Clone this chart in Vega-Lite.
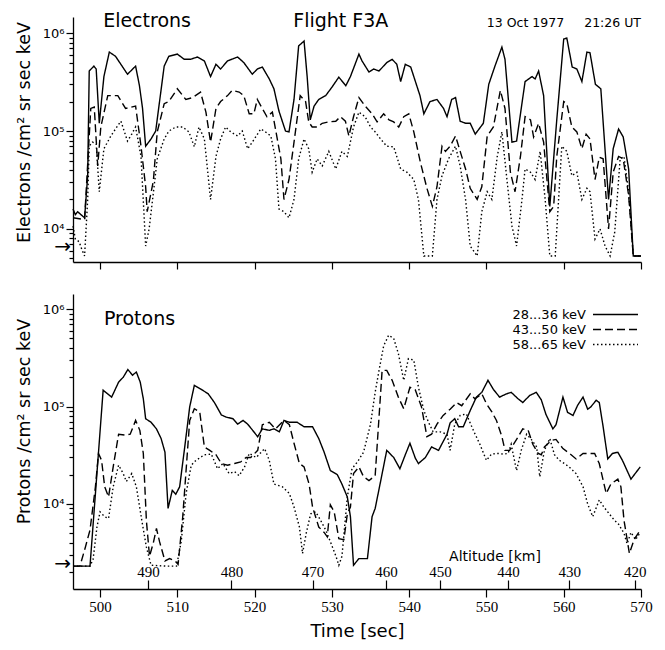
{
"$schema":"https://vega.github.io/schema/vega-lite/v6.json",
"padding":{"left":15,"top":11,"right":2,"bottom":2},
"config":{"font":"DejaVu Sans","view":{"stroke":null},"axis":{"grid":false,"domainColor":"#000","tickColor":"#000","labelColor":"#000","titleColor":"#000","titleFontWeight":"normal","domainWidth":1.3,"tickWidth":1.2},"text":{"color":"#000"}},
"resolve":{"legend":{"strokeDash":"independent"}},
"spacing":24,
"datasets":{
"el":[
{"b":"28...36 keV","t":496.5,"v":16000},{"b":"28...36 keV","t":496.8,"v":14000},{"b":"28...36 keV","t":497.1,"v":15000},{"b":"28...36 keV","t":498.0,"v":13000},{"b":"28...36 keV","t":498.4,"v":35000},{"b":"28...36 keV","t":498.6,"v":410000},{"b":"28...36 keV","t":499.2,"v":460000},{"b":"28...36 keV","t":499.5,"v":430000},{"b":"28...36 keV","t":499.9,"v":120000},{"b":"28...36 keV","t":500.5,"v":360000},{"b":"28...36 keV","t":501.2,"v":640000},{"b":"28...36 keV","t":502.0,"v":580000},{"b":"28...36 keV","t":503.55,"v":380000},{"b":"28...36 keV","t":504.6,"v":460000},{"b":"28...36 keV","t":505.1,"v":290000},{"b":"28...36 keV","t":505.5,"v":170000},{"b":"28...36 keV","t":505.9,"v":70000},{"b":"28...36 keV","t":506.6,"v":83000},{"b":"28...36 keV","t":507.2,"v":100000},{"b":"28...36 keV","t":508.3,"v":460000},{"b":"28...36 keV","t":508.9,"v":580000},{"b":"28...36 keV","t":510.0,"v":610000},{"b":"28...36 keV","t":510.9,"v":540000},{"b":"28...36 keV","t":511.7,"v":540000},{"b":"28...36 keV","t":512.6,"v":570000},{"b":"28...36 keV","t":513.5,"v":520000},{"b":"28...36 keV","t":514.3,"v":360000},{"b":"28...36 keV","t":515.0,"v":480000},{"b":"28...36 keV","t":515.6,"v":430000},{"b":"28...36 keV","t":516.5,"v":520000},{"b":"28...36 keV","t":517.8,"v":570000},{"b":"28...36 keV","t":518.6,"v":500000},{"b":"28...36 keV","t":519.7,"v":380000},{"b":"28...36 keV","t":520.35,"v":430000},{"b":"28...36 keV","t":521.0,"v":450000},{"b":"28...36 keV","t":521.9,"v":340000},{"b":"28...36 keV","t":522.5,"v":270000},{"b":"28...36 keV","t":523.15,"v":160000},{"b":"28...36 keV","t":524.0,"v":100000},{"b":"28...36 keV","t":524.45,"v":98000},{"b":"28...36 keV","t":525.1,"v":210000},{"b":"28...36 keV","t":525.7,"v":740000},{"b":"28...36 keV","t":526.4,"v":830000},{"b":"28...36 keV","t":526.8,"v":360000},{"b":"28...36 keV","t":527.2,"v":130000},{"b":"28...36 keV","t":527.7,"v":180000},{"b":"28...36 keV","t":528.3,"v":210000},{"b":"28...36 keV","t":529.2,"v":230000},{"b":"28...36 keV","t":530.0,"v":280000},{"b":"28...36 keV","t":530.9,"v":355000},{"b":"28...36 keV","t":531.8,"v":290000},{"b":"28...36 keV","t":532.4,"v":360000},{"b":"28...36 keV","t":533.5,"v":610000},{"b":"28...36 keV","t":533.9,"v":520000},{"b":"28...36 keV","t":534.8,"v":400000},{"b":"28...36 keV","t":535.4,"v":430000},{"b":"28...36 keV","t":536.1,"v":410000},{"b":"28...36 keV","t":537.1,"v":500000},{"b":"28...36 keV","t":537.8,"v":540000},{"b":"28...36 keV","t":538.4,"v":480000},{"b":"28...36 keV","t":538.9,"v":320000},{"b":"28...36 keV","t":539.5,"v":480000},{"b":"28...36 keV","t":540.2,"v":450000},{"b":"28...36 keV","t":540.6,"v":360000},{"b":"28...36 keV","t":541.4,"v":230000},{"b":"28...36 keV","t":541.9,"v":150000},{"b":"28...36 keV","t":542.7,"v":200000},{"b":"28...36 keV","t":543.6,"v":210000},{"b":"28...36 keV","t":544.45,"v":170000},{"b":"28...36 keV","t":544.9,"v":140000},{"b":"28...36 keV","t":545.5,"v":210000},{"b":"28...36 keV","t":546.0,"v":220000},{"b":"28...36 keV","t":546.6,"v":126000},{"b":"28...36 keV","t":547.3,"v":120000},{"b":"28...36 keV","t":547.9,"v":120000},{"b":"28...36 keV","t":548.55,"v":93000},{"b":"28...36 keV","t":549.6,"v":120000},{"b":"28...36 keV","t":550.3,"v":300000},{"b":"28...36 keV","t":551.1,"v":460000},{"b":"28...36 keV","t":552.0,"v":720000},{"b":"28...36 keV","t":552.4,"v":540000},{"b":"28...36 keV","t":553.3,"v":77000},{"b":"28...36 keV","t":553.9,"v":79000},{"b":"28...36 keV","t":555.0,"v":320000},{"b":"28...36 keV","t":555.9,"v":360000},{"b":"28...36 keV","t":556.3,"v":340000},{"b":"28...36 keV","t":556.75,"v":410000},{"b":"28...36 keV","t":557.4,"v":230000},{"b":"28...36 keV","t":558.2,"v":17000},{"b":"28...36 keV","t":559.1,"v":130000},{"b":"28...36 keV","t":560.0,"v":870000},{"b":"28...36 keV","t":560.4,"v":890000},{"b":"28...36 keV","t":561.1,"v":450000},{"b":"28...36 keV","t":561.7,"v":430000},{"b":"28...36 keV","t":562.35,"v":320000},{"b":"28...36 keV","t":563.0,"v":640000},{"b":"28...36 keV","t":563.4,"v":630000},{"b":"28...36 keV","t":564.1,"v":300000},{"b":"28...36 keV","t":564.8,"v":270000},{"b":"28...36 keV","t":565.8,"v":20000},{"b":"28...36 keV","t":566.4,"v":66000},{"b":"28...36 keV","t":567.1,"v":105000},{"b":"28...36 keV","t":567.7,"v":87000},{"b":"28...36 keV","t":568.4,"v":41000},{"b":"28...36 keV","t":569.0,"v":5300},{"b":"28...36 keV","t":570.0,"v":5300},
{"b":"43...50 keV","t":496.5,"v":13000},{"b":"43...50 keV","t":498.0,"v":12500},{"b":"43...50 keV","t":498.8,"v":170000},{"b":"43...50 keV","t":499.25,"v":176000},{"b":"43...50 keV","t":499.7,"v":44000},{"b":"43...50 keV","t":500.1,"v":110000},{"b":"43...50 keV","t":501.0,"v":230000},{"b":"43...50 keV","t":502.3,"v":230000},{"b":"43...50 keV","t":503.3,"v":170000},{"b":"43...50 keV","t":504.6,"v":180000},{"b":"43...50 keV","t":505.3,"v":70000},{"b":"43...50 keV","t":505.9,"v":27000},{"b":"43...50 keV","t":506.1,"v":15000},{"b":"43...50 keV","t":506.9,"v":31000},{"b":"43...50 keV","t":507.4,"v":98000},{"b":"43...50 keV","t":508.3,"v":190000},{"b":"43...50 keV","t":508.9,"v":200000},{"b":"43...50 keV","t":510.0,"v":270000},{"b":"43...50 keV","t":511.1,"v":210000},{"b":"43...50 keV","t":512.0,"v":220000},{"b":"43...50 keV","t":513.0,"v":250000},{"b":"43...50 keV","t":513.7,"v":156000},{"b":"43...50 keV","t":514.3,"v":77000},{"b":"43...50 keV","t":515.0,"v":170000},{"b":"43...50 keV","t":515.6,"v":200000},{"b":"43...50 keV","t":516.5,"v":230000},{"b":"43...50 keV","t":517.1,"v":260000},{"b":"43...50 keV","t":518.0,"v":250000},{"b":"43...50 keV","t":518.6,"v":230000},{"b":"43...50 keV","t":519.3,"v":150000},{"b":"43...50 keV","t":519.9,"v":150000},{"b":"43...50 keV","t":520.35,"v":210000},{"b":"43...50 keV","t":521.0,"v":170000},{"b":"43...50 keV","t":521.6,"v":140000},{"b":"43...50 keV","t":522.3,"v":156000},{"b":"43...50 keV","t":522.7,"v":105000},{"b":"43...50 keV","t":523.4,"v":52000},{"b":"43...50 keV","t":523.8,"v":20000},{"b":"43...50 keV","t":524.45,"v":32000},{"b":"43...50 keV","t":525.1,"v":77000},{"b":"43...50 keV","t":525.9,"v":230000},{"b":"43...50 keV","t":526.6,"v":200000},{"b":"43...50 keV","t":527.0,"v":124000},{"b":"43...50 keV","t":527.45,"v":110000},{"b":"43...50 keV","t":528.1,"v":110000},{"b":"43...50 keV","t":528.75,"v":120000},{"b":"43...50 keV","t":529.6,"v":124000},{"b":"43...50 keV","t":530.5,"v":126000},{"b":"43...50 keV","t":531.1,"v":140000},{"b":"43...50 keV","t":531.75,"v":126000},{"b":"43...50 keV","t":532.2,"v":89000},{"b":"43...50 keV","t":532.8,"v":140000},{"b":"43...50 keV","t":533.5,"v":220000},{"b":"43...50 keV","t":534.3,"v":180000},{"b":"43...50 keV","t":535.2,"v":150000},{"b":"43...50 keV","t":535.85,"v":124000},{"b":"43...50 keV","t":536.7,"v":150000},{"b":"43...50 keV","t":537.4,"v":130000},{"b":"43...50 keV","t":538.0,"v":124000},{"b":"43...50 keV","t":538.65,"v":110000},{"b":"43...50 keV","t":539.3,"v":140000},{"b":"43...50 keV","t":539.95,"v":150000},{"b":"43...50 keV","t":540.6,"v":98000},{"b":"43...50 keV","t":541.45,"v":48000},{"b":"43...50 keV","t":542.3,"v":26000},{"b":"43...50 keV","t":543.0,"v":17000},{"b":"43...50 keV","t":543.6,"v":27000},{"b":"43...50 keV","t":544.25,"v":70000},{"b":"43...50 keV","t":544.7,"v":62000},{"b":"43...50 keV","t":545.3,"v":70000},{"b":"43...50 keV","t":546.0,"v":89000},{"b":"43...50 keV","t":546.6,"v":62000},{"b":"43...50 keV","t":547.3,"v":41000},{"b":"43...50 keV","t":547.9,"v":26000},{"b":"43...50 keV","t":548.8,"v":20000},{"b":"43...50 keV","t":549.4,"v":27000},{"b":"43...50 keV","t":550.1,"v":89000},{"b":"43...50 keV","t":550.9,"v":110000},{"b":"43...50 keV","t":551.8,"v":260000},{"b":"43...50 keV","t":552.4,"v":170000},{"b":"43...50 keV","t":553.1,"v":38000},{"b":"43...50 keV","t":553.7,"v":24000},{"b":"43...50 keV","t":554.4,"v":55000},{"b":"43...50 keV","t":555.0,"v":140000},{"b":"43...50 keV","t":555.7,"v":130000},{"b":"43...50 keV","t":556.1,"v":87000},{"b":"43...50 keV","t":556.75,"v":120000},{"b":"43...50 keV","t":557.4,"v":77000},{"b":"43...50 keV","t":558.2,"v":15000},{"b":"43...50 keV","t":558.7,"v":17000},{"b":"43...50 keV","t":559.1,"v":55000},{"b":"43...50 keV","t":560.0,"v":200000},{"b":"43...50 keV","t":560.4,"v":190000},{"b":"43...50 keV","t":561.05,"v":110000},{"b":"43...50 keV","t":561.7,"v":98000},{"b":"43...50 keV","t":562.35,"v":66000},{"b":"43...50 keV","t":562.9,"v":93000},{"b":"43...50 keV","t":563.4,"v":83000},{"b":"43...50 keV","t":564.05,"v":32000},{"b":"43...50 keV","t":564.6,"v":54000},{"b":"43...50 keV","t":565.1,"v":52000},{"b":"43...50 keV","t":565.8,"v":10000},{"b":"43...50 keV","t":566.4,"v":38000},{"b":"43...50 keV","t":567.1,"v":55000},{"b":"43...50 keV","t":567.7,"v":52000},{"b":"43...50 keV","t":568.4,"v":22000},{"b":"43...50 keV","t":569.0,"v":5300},{"b":"43...50 keV","t":570.0,"v":5300},
{"b":"58...65 keV","t":496.5,"v":10700},{"b":"58...65 keV","t":496.8,"v":7900},{"b":"58...65 keV","t":497.3,"v":7400},{"b":"58...65 keV","t":497.6,"v":6300},{"b":"58...65 keV","t":498.0,"v":5300},{"b":"58...65 keV","t":498.4,"v":20000},{"b":"58...65 keV","t":498.6,"v":70000},{"b":"58...65 keV","t":499.0,"v":77000},{"b":"58...65 keV","t":499.5,"v":74000},{"b":"58...65 keV","t":499.9,"v":24000},{"b":"58...65 keV","t":500.5,"v":66000},{"b":"58...65 keV","t":501.4,"v":89000},{"b":"58...65 keV","t":502.0,"v":105000},{"b":"58...65 keV","t":502.7,"v":126000},{"b":"58...65 keV","t":503.55,"v":79000},{"b":"58...65 keV","t":504.1,"v":93000},{"b":"58...65 keV","t":504.6,"v":110000},{"b":"58...65 keV","t":505.3,"v":55000},{"b":"58...65 keV","t":505.9,"v":6700},{"b":"58...65 keV","t":506.35,"v":10000},{"b":"58...65 keV","t":506.8,"v":20000},{"b":"58...65 keV","t":507.4,"v":52000},{"b":"58...65 keV","t":508.3,"v":83000},{"b":"58...65 keV","t":508.9,"v":100000},{"b":"58...65 keV","t":509.8,"v":110000},{"b":"58...65 keV","t":510.7,"v":110000},{"b":"58...65 keV","t":511.5,"v":98000},{"b":"58...65 keV","t":512.2,"v":69000},{"b":"58...65 keV","t":512.8,"v":110000},{"b":"58...65 keV","t":513.5,"v":83000},{"b":"58...65 keV","t":514.3,"v":20000},{"b":"58...65 keV","t":515.0,"v":55000},{"b":"58...65 keV","t":515.6,"v":83000},{"b":"58...65 keV","t":516.25,"v":110000},{"b":"58...65 keV","t":516.9,"v":98000},{"b":"58...65 keV","t":517.8,"v":89000},{"b":"58...65 keV","t":518.4,"v":100000},{"b":"58...65 keV","t":519.1,"v":66000},{"b":"58...65 keV","t":519.7,"v":77000},{"b":"58...65 keV","t":520.8,"v":105000},{"b":"58...65 keV","t":521.4,"v":98000},{"b":"58...65 keV","t":522.1,"v":89000},{"b":"58...65 keV","t":522.7,"v":52000},{"b":"58...65 keV","t":523.15,"v":16000},{"b":"58...65 keV","t":523.8,"v":15000},{"b":"58...65 keV","t":524.45,"v":13000},{"b":"58...65 keV","t":525.1,"v":20000},{"b":"58...65 keV","t":525.7,"v":52000},{"b":"58...65 keV","t":526.4,"v":83000},{"b":"58...65 keV","t":527.0,"v":66000},{"b":"58...65 keV","t":527.45,"v":38000},{"b":"58...65 keV","t":528.1,"v":52000},{"b":"58...65 keV","t":528.75,"v":44000},{"b":"58...65 keV","t":529.6,"v":62000},{"b":"58...65 keV","t":530.5,"v":41000},{"b":"58...65 keV","t":531.3,"v":62000},{"b":"58...65 keV","t":532.0,"v":55000},{"b":"58...65 keV","t":532.8,"v":110000},{"b":"58...65 keV","t":533.5,"v":156000},{"b":"58...65 keV","t":534.3,"v":140000},{"b":"58...65 keV","t":535.0,"v":110000},{"b":"58...65 keV","t":535.6,"v":98000},{"b":"58...65 keV","t":536.3,"v":83000},{"b":"58...65 keV","t":537.1,"v":70000},{"b":"58...65 keV","t":538.0,"v":69000},{"b":"58...65 keV","t":538.9,"v":41000},{"b":"58...65 keV","t":539.7,"v":38000},{"b":"58...65 keV","t":540.6,"v":32000},{"b":"58...65 keV","t":541.2,"v":20000},{"b":"58...65 keV","t":541.9,"v":5300},{"b":"58...65 keV","t":543.0,"v":5300},{"b":"58...65 keV","t":543.6,"v":20000},{"b":"58...65 keV","t":544.25,"v":35000},{"b":"58...65 keV","t":545.1,"v":52000},{"b":"58...65 keV","t":546.0,"v":70000},{"b":"58...65 keV","t":546.6,"v":44000},{"b":"58...65 keV","t":547.3,"v":20000},{"b":"58...65 keV","t":547.9,"v":6700},{"b":"58...65 keV","t":548.8,"v":5300},{"b":"58...65 keV","t":549.4,"v":15000},{"b":"58...65 keV","t":550.1,"v":24000},{"b":"58...65 keV","t":550.7,"v":20000},{"b":"58...65 keV","t":551.4,"v":55000},{"b":"58...65 keV","t":552.0,"v":98000},{"b":"58...65 keV","t":552.65,"v":32000},{"b":"58...65 keV","t":553.3,"v":10700},{"b":"58...65 keV","t":553.9,"v":6700},{"b":"58...65 keV","t":554.6,"v":20000},{"b":"58...65 keV","t":555.0,"v":41000},{"b":"58...65 keV","t":555.7,"v":38000},{"b":"58...65 keV","t":556.3,"v":32000},{"b":"58...65 keV","t":556.95,"v":62000},{"b":"58...65 keV","t":557.6,"v":20000},{"b":"58...65 keV","t":558.2,"v":5300},{"b":"58...65 keV","t":558.9,"v":5300},{"b":"58...65 keV","t":559.75,"v":70000},{"b":"58...65 keV","t":560.4,"v":62000},{"b":"58...65 keV","t":561.05,"v":35000},{"b":"58...65 keV","t":561.7,"v":38000},{"b":"58...65 keV","t":562.35,"v":20000},{"b":"58...65 keV","t":563.0,"v":26000},{"b":"58...65 keV","t":563.4,"v":24000},{"b":"58...65 keV","t":564.05,"v":7900},{"b":"58...65 keV","t":564.7,"v":10000},{"b":"58...65 keV","t":565.35,"v":6700},{"b":"58...65 keV","t":566.0,"v":5300},{"b":"58...65 keV","t":566.6,"v":9300},{"b":"58...65 keV","t":567.3,"v":52000},{"b":"58...65 keV","t":567.8,"v":55000},{"b":"58...65 keV","t":568.4,"v":24000},{"b":"58...65 keV","t":569.0,"v":5300},{"b":"58...65 keV","t":570.0,"v":5300}
],
"pr":[
{"b":"28...36 keV","t":496.5,"v":2300},{"b":"28...36 keV","t":498.7,"v":2300},{"b":"28...36 keV","t":500.4,"v":147000},{"b":"28...36 keV","t":501.5,"v":125000},{"b":"28...36 keV","t":502.4,"v":178000},{"b":"28...36 keV","t":503.0,"v":200000},{"b":"28...36 keV","t":503.6,"v":240000},{"b":"28...36 keV","t":504.2,"v":210000},{"b":"28...36 keV","t":504.7,"v":226000},{"b":"28...36 keV","t":505.2,"v":178000},{"b":"28...36 keV","t":505.6,"v":120000},{"b":"28...36 keV","t":505.9,"v":75000},{"b":"28...36 keV","t":506.6,"v":69000},{"b":"28...36 keV","t":507.3,"v":59000},{"b":"28...36 keV","t":507.9,"v":47000},{"b":"28...36 keV","t":508.4,"v":34000},{"b":"28...36 keV","t":508.8,"v":9000},{"b":"28...36 keV","t":509.35,"v":13800},{"b":"28...36 keV","t":509.8,"v":12600},{"b":"28...36 keV","t":510.3,"v":15000},{"b":"28...36 keV","t":510.95,"v":38000},{"b":"28...36 keV","t":511.6,"v":99000},{"b":"28...36 keV","t":512.2,"v":165000},{"b":"28...36 keV","t":513.1,"v":150000},{"b":"28...36 keV","t":514.0,"v":135000},{"b":"28...36 keV","t":514.8,"v":110000},{"b":"28...36 keV","t":515.7,"v":82000},{"b":"28...36 keV","t":516.3,"v":78000},{"b":"28...36 keV","t":517.2,"v":75000},{"b":"28...36 keV","t":517.8,"v":66000},{"b":"28...36 keV","t":518.5,"v":72000},{"b":"28...36 keV","t":519.1,"v":66000},{"b":"28...36 keV","t":519.75,"v":57000},{"b":"28...36 keV","t":520.4,"v":49000},{"b":"28...36 keV","t":521.0,"v":59000},{"b":"28...36 keV","t":521.9,"v":57000},{"b":"28...36 keV","t":522.5,"v":59000},{"b":"28...36 keV","t":523.2,"v":55000},{"b":"28...36 keV","t":523.8,"v":72000},{"b":"28...36 keV","t":524.5,"v":69000},{"b":"28...36 keV","t":525.5,"v":69000},{"b":"28...36 keV","t":526.4,"v":62000},{"b":"28...36 keV","t":527.5,"v":62000},{"b":"28...36 keV","t":528.3,"v":47000},{"b":"28...36 keV","t":529.0,"v":34000},{"b":"28...36 keV","t":529.8,"v":22000},{"b":"28...36 keV","t":530.7,"v":20000},{"b":"28...36 keV","t":531.3,"v":16000},{"b":"28...36 keV","t":532.0,"v":11800},{"b":"28...36 keV","t":532.4,"v":7400},{"b":"28...36 keV","t":532.8,"v":2350},{"b":"28...36 keV","t":533.5,"v":2750},{"b":"28...36 keV","t":534.6,"v":2750},{"b":"28...36 keV","t":535.2,"v":7400},{"b":"28...36 keV","t":535.6,"v":9000},{"b":"28...36 keV","t":536.3,"v":17000},{"b":"28...36 keV","t":537.1,"v":35500},{"b":"28...36 keV","t":538.0,"v":30000},{"b":"28...36 keV","t":538.8,"v":23000},{"b":"28...36 keV","t":539.5,"v":32000},{"b":"28...36 keV","t":540.1,"v":42000},{"b":"28...36 keV","t":540.8,"v":29500},{"b":"28...36 keV","t":541.2,"v":26000},{"b":"28...36 keV","t":542.1,"v":30000},{"b":"28...36 keV","t":542.9,"v":38500},{"b":"28...36 keV","t":543.8,"v":35500},{"b":"28...36 keV","t":544.9,"v":52000},{"b":"28...36 keV","t":545.3,"v":68000},{"b":"28...36 keV","t":545.9,"v":75000},{"b":"28...36 keV","t":546.4,"v":62000},{"b":"28...36 keV","t":547.0,"v":62000},{"b":"28...36 keV","t":547.9,"v":91000},{"b":"28...36 keV","t":548.7,"v":125000},{"b":"28...36 keV","t":549.4,"v":140000},{"b":"28...36 keV","t":550.2,"v":186000},{"b":"28...36 keV","t":550.9,"v":150000},{"b":"28...36 keV","t":551.7,"v":125000},{"b":"28...36 keV","t":552.6,"v":135000},{"b":"28...36 keV","t":553.2,"v":140000},{"b":"28...36 keV","t":554.1,"v":120000},{"b":"28...36 keV","t":554.7,"v":110000},{"b":"28...36 keV","t":555.6,"v":130000},{"b":"28...36 keV","t":556.45,"v":140000},{"b":"28...36 keV","t":557.1,"v":117000},{"b":"28...36 keV","t":557.7,"v":83000},{"b":"28...36 keV","t":558.6,"v":59000},{"b":"28...36 keV","t":559.0,"v":65000},{"b":"28...36 keV","t":559.9,"v":125000},{"b":"28...36 keV","t":560.5,"v":87000},{"b":"28...36 keV","t":561.2,"v":81000},{"b":"28...36 keV","t":561.8,"v":103000},{"b":"28...36 keV","t":562.5,"v":125000},{"b":"28...36 keV","t":563.1,"v":94000},{"b":"28...36 keV","t":563.5,"v":99000},{"b":"28...36 keV","t":564.2,"v":116000},{"b":"28...36 keV","t":564.6,"v":110000},{"b":"28...36 keV","t":565.1,"v":62000},{"b":"28...36 keV","t":565.7,"v":29000},{"b":"28...36 keV","t":566.3,"v":33000},{"b":"28...36 keV","t":567.0,"v":34000},{"b":"28...36 keV","t":567.6,"v":28000},{"b":"28...36 keV","t":568.7,"v":18000},{"b":"28...36 keV","t":569.9,"v":24000},
{"b":"43...50 keV","t":496.5,"v":2300},{"b":"43...50 keV","t":497.4,"v":2300},{"b":"43...50 keV","t":498.1,"v":3600},{"b":"43...50 keV","t":498.7,"v":5400},{"b":"43...50 keV","t":499.4,"v":15000},{"b":"43...50 keV","t":499.8,"v":33000},{"b":"43...50 keV","t":500.2,"v":28000},{"b":"43...50 keV","t":500.6,"v":15000},{"b":"43...50 keV","t":501.1,"v":11800},{"b":"43...50 keV","t":501.7,"v":24000},{"b":"43...50 keV","t":502.4,"v":52000},{"b":"43...50 keV","t":503.2,"v":51000},{"b":"43...50 keV","t":503.9,"v":52000},{"b":"43...50 keV","t":504.6,"v":72000},{"b":"43...50 keV","t":505.15,"v":57000},{"b":"43...50 keV","t":505.6,"v":33000},{"b":"43...50 keV","t":506.0,"v":6700},{"b":"43...50 keV","t":506.4,"v":2900},{"b":"43...50 keV","t":506.9,"v":4000},{"b":"43...50 keV","t":507.3,"v":5600},{"b":"43...50 keV","t":507.7,"v":4100},{"b":"43...50 keV","t":508.4,"v":2600},{"b":"43...50 keV","t":509.0,"v":2750},{"b":"43...50 keV","t":509.7,"v":2600},{"b":"43...50 keV","t":510.1,"v":2400},{"b":"43...50 keV","t":510.7,"v":7400},{"b":"43...50 keV","t":511.6,"v":72000},{"b":"43...50 keV","t":512.2,"v":95000},{"b":"43...50 keV","t":512.9,"v":88000},{"b":"43...50 keV","t":513.5,"v":38500},{"b":"43...50 keV","t":514.2,"v":35500},{"b":"43...50 keV","t":515.0,"v":32000},{"b":"43...50 keV","t":515.7,"v":26000},{"b":"43...50 keV","t":516.5,"v":25000},{"b":"43...50 keV","t":517.4,"v":26000},{"b":"43...50 keV","t":518.2,"v":27000},{"b":"43...50 keV","t":518.9,"v":30000},{"b":"43...50 keV","t":519.5,"v":30000},{"b":"43...50 keV","t":520.4,"v":35500},{"b":"43...50 keV","t":521.0,"v":65000},{"b":"43...50 keV","t":521.9,"v":69000},{"b":"43...50 keV","t":522.7,"v":59000},{"b":"43...50 keV","t":523.8,"v":72000},{"b":"43...50 keV","t":524.5,"v":65000},{"b":"43...50 keV","t":525.1,"v":42000},{"b":"43...50 keV","t":525.8,"v":26000},{"b":"43...50 keV","t":526.4,"v":24000},{"b":"43...50 keV","t":527.05,"v":16000},{"b":"43...50 keV","t":527.5,"v":9300},{"b":"43...50 keV","t":528.3,"v":5800},{"b":"43...50 keV","t":529.0,"v":5100},{"b":"43...50 keV","t":529.4,"v":4600},{"b":"43...50 keV","t":529.8,"v":9800},{"b":"43...50 keV","t":530.3,"v":8300},{"b":"43...50 keV","t":530.9,"v":4400},{"b":"43...50 keV","t":531.55,"v":4300},{"b":"43...50 keV","t":532.0,"v":7900},{"b":"43...50 keV","t":532.4,"v":9300},{"b":"43...50 keV","t":532.8,"v":20500},{"b":"43...50 keV","t":533.5,"v":24000},{"b":"43...50 keV","t":534.1,"v":19000},{"b":"43...50 keV","t":534.8,"v":17400},{"b":"43...50 keV","t":535.6,"v":19500},{"b":"43...50 keV","t":536.5,"v":235000},{"b":"43...50 keV","t":537.1,"v":235000},{"b":"43...50 keV","t":537.8,"v":186000},{"b":"43...50 keV","t":538.6,"v":125000},{"b":"43...50 keV","t":539.3,"v":95000},{"b":"43...50 keV","t":540.1,"v":158000},{"b":"43...50 keV","t":540.8,"v":148000},{"b":"43...50 keV","t":541.6,"v":99000},{"b":"43...50 keV","t":542.3,"v":49000},{"b":"43...50 keV","t":542.9,"v":52000},{"b":"43...50 keV","t":543.6,"v":66000},{"b":"43...50 keV","t":544.4,"v":81000},{"b":"43...50 keV","t":545.3,"v":94000},{"b":"43...50 keV","t":546.15,"v":110000},{"b":"43...50 keV","t":546.8,"v":102000},{"b":"43...50 keV","t":547.9,"v":135000},{"b":"43...50 keV","t":548.5,"v":120000},{"b":"43...50 keV","t":549.4,"v":135000},{"b":"43...50 keV","t":550.0,"v":107000},{"b":"43...50 keV","t":550.7,"v":88000},{"b":"43...50 keV","t":551.3,"v":72000},{"b":"43...50 keV","t":552.0,"v":49000},{"b":"43...50 keV","t":552.4,"v":35500},{"b":"43...50 keV","t":553.0,"v":35500},{"b":"43...50 keV","t":553.9,"v":46000},{"b":"43...50 keV","t":554.7,"v":59000},{"b":"43...50 keV","t":555.4,"v":57000},{"b":"43...50 keV","t":556.0,"v":41000},{"b":"43...50 keV","t":556.7,"v":33000},{"b":"43...50 keV","t":557.1,"v":32000},{"b":"43...50 keV","t":557.5,"v":38500},{"b":"43...50 keV","t":558.4,"v":45000},{"b":"43...50 keV","t":559.0,"v":46000},{"b":"43...50 keV","t":559.9,"v":37000},{"b":"43...50 keV","t":560.75,"v":33000},{"b":"43...50 keV","t":561.6,"v":29000},{"b":"43...50 keV","t":562.5,"v":33000},{"b":"43...50 keV","t":563.3,"v":33000},{"b":"43...50 keV","t":564.0,"v":33000},{"b":"43...50 keV","t":564.6,"v":26000},{"b":"43...50 keV","t":565.5,"v":12800},{"b":"43...50 keV","t":566.1,"v":16000},{"b":"43...50 keV","t":567.0,"v":18000},{"b":"43...50 keV","t":567.4,"v":15000},{"b":"43...50 keV","t":567.8,"v":6800},{"b":"43...50 keV","t":568.5,"v":3100},{"b":"43...50 keV","t":569.1,"v":4300},{"b":"43...50 keV","t":569.9,"v":5400},
{"b":"58...65 keV","t":496.5,"v":2300},{"b":"58...65 keV","t":498.7,"v":2300},{"b":"58...65 keV","t":499.1,"v":2700},{"b":"58...65 keV","t":499.6,"v":5800},{"b":"58...65 keV","t":500.0,"v":8300},{"b":"58...65 keV","t":500.6,"v":7400},{"b":"58...65 keV","t":501.1,"v":7100},{"b":"58...65 keV","t":501.7,"v":15000},{"b":"58...65 keV","t":502.4,"v":25000},{"b":"58...65 keV","t":503.0,"v":20500},{"b":"58...65 keV","t":503.4,"v":17000},{"b":"58...65 keV","t":504.1,"v":20500},{"b":"58...65 keV","t":504.7,"v":15000},{"b":"58...65 keV","t":505.4,"v":6800},{"b":"58...65 keV","t":506.0,"v":3600},{"b":"58...65 keV","t":506.6,"v":2350},{"b":"58...65 keV","t":508.6,"v":2300},{"b":"58...65 keV","t":509.9,"v":2300},{"b":"58...65 keV","t":510.5,"v":4100},{"b":"58...65 keV","t":511.15,"v":13000},{"b":"58...65 keV","t":511.8,"v":25000},{"b":"58...65 keV","t":512.4,"v":28000},{"b":"58...65 keV","t":513.5,"v":32000},{"b":"58...65 keV","t":514.4,"v":32500},{"b":"58...65 keV","t":515.2,"v":23000},{"b":"58...65 keV","t":515.9,"v":26000},{"b":"58...65 keV","t":516.7,"v":20500},{"b":"58...65 keV","t":517.4,"v":21500},{"b":"58...65 keV","t":518.0,"v":19500},{"b":"58...65 keV","t":518.7,"v":24000},{"b":"58...65 keV","t":519.3,"v":33000},{"b":"58...65 keV","t":520.2,"v":30000},{"b":"58...65 keV","t":521.3,"v":37000},{"b":"58...65 keV","t":521.9,"v":28000},{"b":"58...65 keV","t":522.5,"v":16000},{"b":"58...65 keV","t":523.6,"v":15000},{"b":"58...65 keV","t":524.5,"v":12800},{"b":"58...65 keV","t":525.1,"v":9300},{"b":"58...65 keV","t":525.8,"v":5800},{"b":"58...65 keV","t":526.2,"v":3100},{"b":"58...65 keV","t":526.7,"v":5100},{"b":"58...65 keV","t":527.25,"v":7900},{"b":"58...65 keV","t":527.9,"v":8300},{"b":"58...65 keV","t":528.5,"v":6900},{"b":"58...65 keV","t":529.2,"v":5400},{"b":"58...65 keV","t":529.8,"v":4100},{"b":"58...65 keV","t":530.5,"v":2950},{"b":"58...65 keV","t":530.9,"v":2350},{"b":"58...65 keV","t":531.3,"v":2900},{"b":"58...65 keV","t":532.0,"v":11800},{"b":"58...65 keV","t":532.6,"v":23000},{"b":"58...65 keV","t":533.3,"v":27000},{"b":"58...65 keV","t":534.1,"v":34000},{"b":"58...65 keV","t":535.0,"v":66000},{"b":"58...65 keV","t":535.6,"v":140000},{"b":"58...65 keV","t":536.1,"v":235000},{"b":"58...65 keV","t":536.7,"v":420000},{"b":"58...65 keV","t":537.35,"v":540000},{"b":"58...65 keV","t":538.0,"v":500000},{"b":"58...65 keV","t":538.6,"v":350000},{"b":"58...65 keV","t":539.3,"v":186000},{"b":"58...65 keV","t":539.9,"v":310000},{"b":"58...65 keV","t":540.6,"v":300000},{"b":"58...65 keV","t":541.2,"v":158000},{"b":"58...65 keV","t":541.9,"v":91000},{"b":"58...65 keV","t":542.5,"v":69000},{"b":"58...65 keV","t":543.1,"v":55000},{"b":"58...65 keV","t":544.0,"v":55000},{"b":"58...65 keV","t":544.9,"v":52000},{"b":"58...65 keV","t":545.3,"v":35500},{"b":"58...65 keV","t":545.9,"v":66000},{"b":"58...65 keV","t":546.6,"v":81000},{"b":"58...65 keV","t":547.4,"v":84000},{"b":"58...65 keV","t":548.3,"v":57000},{"b":"58...65 keV","t":549.15,"v":41000},{"b":"58...65 keV","t":550.0,"v":28000},{"b":"58...65 keV","t":550.65,"v":32500},{"b":"58...65 keV","t":551.5,"v":33000},{"b":"58...65 keV","t":552.2,"v":32500},{"b":"58...65 keV","t":552.8,"v":33000},{"b":"58...65 keV","t":553.2,"v":41000},{"b":"58...65 keV","t":553.9,"v":22000},{"b":"58...65 keV","t":554.5,"v":35500},{"b":"58...65 keV","t":555.2,"v":52000},{"b":"58...65 keV","t":555.8,"v":46000},{"b":"58...65 keV","t":556.5,"v":38500},{"b":"58...65 keV","t":556.9,"v":19000},{"b":"58...65 keV","t":557.5,"v":35500},{"b":"58...65 keV","t":558.2,"v":47000},{"b":"58...65 keV","t":558.8,"v":32000},{"b":"58...65 keV","t":559.45,"v":28000},{"b":"58...65 keV","t":560.1,"v":26000},{"b":"58...65 keV","t":560.7,"v":24000},{"b":"58...65 keV","t":561.6,"v":20500},{"b":"58...65 keV","t":562.5,"v":15000},{"b":"58...65 keV","t":563.1,"v":10000},{"b":"58...65 keV","t":563.75,"v":7400},{"b":"58...65 keV","t":564.6,"v":11000},{"b":"58...65 keV","t":565.2,"v":9300},{"b":"58...65 keV","t":565.9,"v":7900},{"b":"58...65 keV","t":566.5,"v":6900},{"b":"58...65 keV","t":567.1,"v":6200},{"b":"58...65 keV","t":567.8,"v":5000},{"b":"58...65 keV","t":568.2,"v":3900},{"b":"58...65 keV","t":568.7,"v":5100},{"b":"58...65 keV","t":569.3,"v":4300},{"b":"58...65 keV","t":569.9,"v":5100}
]},
"vconcat":[
{"width":568,"height":245,
 "layer":[
  {"data":{"name":"el"},"mark":{"type":"line","color":"#000","strokeWidth":1.4},
   "encoding":{
    "x":{"field":"t","type":"quantitative","scale":{"domain":[496.5,570],"nice":false,"zero":false},"axis":{"values":[500,510,520,530,540,550,560,570],"labels":false,"tickSize":7,"title":null}},
    "y":{"field":"v","type":"quantitative","scale":{"type":"log","domain":[4600,1460000],"nice":false},
      "axis":{"values":[5000,6000,7000,8000,9000,10000,20000,30000,40000,50000,60000,70000,80000,90000,100000,200000,300000,400000,500000,600000,700000,800000,900000,1000000],
       "labelExpr":"datum.value == 10000 ? '10⁴' : datum.value == 100000 ? '10⁵' : datum.value == 1000000 ? '10⁶' : ''",
       "tickSize":{"condition":{"test":"datum.value == 10000 || datum.value == 100000 || datum.value == 1000000","value":7},"value":4},
       "labelOverlap":false,"labelPadding":2,"labelFontSize":13,"labelFont":"DejaVu Sans",
       "title":"Electrons /cm² sr sec keV","titleFontSize":17.5,"titlePadding":9,"titleY":115}},
    "strokeDash":{"field":"b","type":"nominal","scale":{"domain":["28...36 keV","43...50 keV","58...65 keV"],"range":[[1,0],[8,4],[1.5,2.5]]},"legend":null}}},
  {"data":{"values":[{"txt":"Electrons"}]},"mark":{"type":"text","align":"left","baseline":"middle","fontSize":19},
   "encoding":{"x":{"datum":500.4,"type":"quantitative"},"y":{"datum":1330000,"type":"quantitative"},"text":{"field":"txt"}}},
  {"data":{"values":[{"txt":"Flight  F3A"}]},"mark":{"type":"text","align":"left","baseline":"middle","fontSize":19},
   "encoding":{"x":{"datum":525.0,"type":"quantitative"},"y":{"datum":1330000,"type":"quantitative"},"text":{"field":"txt"}}},
  {"data":{"values":[{"txt":"13 Oct 1977"}]},"mark":{"type":"text","align":"left","baseline":"middle","fontSize":12.5},
   "encoding":{"x":{"datum":550.05,"type":"quantitative"},"y":{"datum":1260000,"type":"quantitative"},"text":{"field":"txt"}}},
  {"data":{"values":[{"txt":"21:26 UT"}]},"mark":{"type":"text","align":"right","baseline":"middle","fontSize":12.5},
   "encoding":{"x":{"datum":570,"type":"quantitative"},"y":{"datum":1260000,"type":"quantitative"},"text":{"field":"txt"}}},
  {"data":{"values":[{"lvl":6500}]},"mark":{"type":"text","text":"→","align":"right","baseline":"middle","fontSize":20,"dx":-2},
   "encoding":{"x":{"datum":496.5,"type":"quantitative"},"y":{"field":"lvl","type":"quantitative"}}}
 ]},
{"width":568,"height":295,
 "resolve":{"axis":{"x":"independent"}},
 "layer":[
  {"data":{"name":"pr"},"mark":{"type":"line","color":"#000","strokeWidth":1.4},
   "encoding":{
    "x":{"field":"t","type":"quantitative","scale":{"domain":[496.5,570],"nice":false,"zero":false},"axis":{"values":[500,510,520,530,540,550,560,570],"tickSize":8,"labelPadding":2,"labelFontSize":15,"labelFont":"Liberation Sans Narrow","labelFlush":false,"title":"Time [sec]","titleFontSize":18,"titlePadding":8}},
    "y":{"field":"v","type":"quantitative","scale":{"type":"log","domain":[1340,1430000],"nice":false},
      "axis":{"values":[2000,3000,4000,5000,6000,7000,8000,9000,10000,20000,30000,40000,50000,60000,70000,80000,90000,100000,200000,300000,400000,500000,600000,700000,800000,900000,1000000],
       "labelExpr":"datum.value == 10000 ? '10⁴' : datum.value == 100000 ? '10⁵' : datum.value == 1000000 ? '10⁶' : ''",
       "tickSize":{"condition":{"test":"datum.value == 10000 || datum.value == 100000 || datum.value == 1000000","value":7},"value":4},
       "labelOverlap":false,"labelPadding":2,"labelFontSize":13,"labelFont":"DejaVu Sans",
       "title":"Protons /cm² sr sec keV","titleFontSize":17.5,"titlePadding":9,"titleY":127}},
    "strokeDash":{"field":"b","type":"nominal","scale":{"domain":["28...36 keV","43...50 keV","58...65 keV"],"range":[[1,0],[8,4],[1.5,2.5]]},
      "legend":{"orient":"none","legendX":536,"legendY":14,"title":null,"symbolType":"M-4.5,0H4.5","symbolSize":100,"symbolStrokeWidth":1.4,"symbolStrokeColor":"#000","symbolFillColor":"transparent","symbolOpacity":1,"labelAlign":"right","labelOffset":-36,"labelFontSize":13,"labelColor":"#000","labelFont":"DejaVu Sans","rowPadding":1,"padding":0}}}},
  {"data":{"values":[{"txt":"Protons"}]},"mark":{"type":"text","align":"left","baseline":"middle","fontSize":19},
   "encoding":{"x":{"datum":500.5,"type":"quantitative","axis":null},"y":{"datum":790000,"type":"quantitative"},"text":{"field":"txt"}}},
  {"data":{"values":[{"lvl":2400}]},"mark":{"type":"text","text":"→","align":"right","baseline":"middle","fontSize":20,"dx":-2},
   "encoding":{"x":{"datum":496.5,"type":"quantitative",
      "axis":{"orient":"top","offset":-295,"domain":false,"values":[506.2,517.0,527.5,537.0,544.0,552.8,560.7,569.2],
        "labelExpr":"datum.value < 510 ? '490' : datum.value < 520 ? '480' : datum.value < 530 ? '470' : datum.value < 540 ? '460' : datum.value < 548 ? '450' : datum.value < 556 ? '440' : datum.value < 565 ? '430' : '420'",
        "tickSize":9,"labelPadding":1,"labelFontSize":15,"labelFont":"Liberation Sans Narrow","labelFlush":false,"labelOverlap":false,
        "title":"Altitude [km]","titleFontSize":14,"titleX":421.5,"titleY":-29,"titleAlign":"center","titleBaseline":"alphabetic"}},
    "y":{"field":"lvl","type":"quantitative"}}}
 ]}
]
}
